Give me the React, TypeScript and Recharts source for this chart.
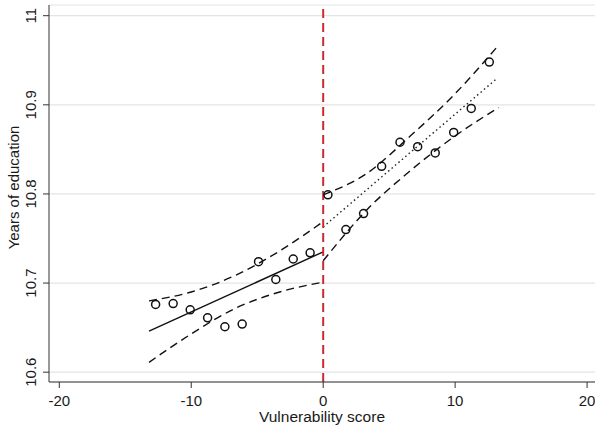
import React from "react";
import {
  ComposedChart,
  XAxis,
  YAxis,
  CartesianGrid,
  Scatter,
  Line,
  ReferenceLine,
} from "recharts";

// Binned means (circles)
const binX = [-12.7, -11.37, -10.08, -8.76, -7.45, -6.14, -4.9, -3.59, -2.27, -0.99, 0.36, 1.72, 3.06, 4.43, 5.82, 7.16, 8.49, 9.89, 11.22, 12.59];
const binY = [10.676, 10.677, 10.67, 10.661, 10.651, 10.654, 10.724, 10.704, 10.727, 10.734, 10.799, 10.76, 10.778, 10.831, 10.858, 10.853, 10.846, 10.869, 10.896, 10.948];

// Left side fit and confidence band
const leftFitX = [-13.2, 0];
const leftFitY = [10.646, 10.735];
const leftBandX = [-13.2, -10, -6.6, -3.3, 0];
const leftUpperY = [10.68, 10.69, 10.709, 10.736, 10.769];
const leftLowerY = [10.611, 10.643, 10.672, 10.69, 10.701];

// Right side fit and confidence band
const rightFitX = [0, 13.2];
const rightFitY = [10.763, 10.93];
const rightBandX = [0, 3.3, 6.6, 9.9, 13.3];
const rightUpperY = [10.799, 10.823, 10.865, 10.911, 10.967];
const rightLowerY = [10.725, 10.782, 10.826, 10.864, 10.897];

const xTicks = [-20, -10, 0, 10, 20];
const yTicks = [10.6, 10.7, 10.8, 10.9, 11];

const toPts = (xs: number[], ys: number[]) => xs.map((x, i) => ({ x, y: ys[i] }));

const bins = toPts(binX, binY);
const leftFit = toPts(leftFitX, leftFitY);
const leftUpper = toPts(leftBandX, leftUpperY);
const leftLower = toPts(leftBandX, leftLowerY);
const rightFit = toPts(rightFitX, rightFitY);
const rightUpper = toPts(rightBandX, rightUpperY);
const rightLower = toPts(rightBandX, rightLowerY);

const FONT = "'Liberation Sans', Arial, sans-serif";

const YTick = (props: any) => {
  const { x, y, payload } = props;
  return (
    <text
      x={x}
      y={y}
      transform={`rotate(-90, ${x}, ${y})`}
      textAnchor="middle"
      fontFamily={FONT}
      fontSize={15}
      fill="#1a1a1a"
    >
      {payload.value}
    </text>
  );
};

const XTick = (props: any) => {
  const { x, y, payload } = props;
  return (
    <text x={x} y={y} dy="0.71em" textAnchor="middle" fontFamily={FONT} fontSize={15} fill="#1a1a1a">
      {payload.value}
    </text>
  );
};

const Circle = (props: any) => {
  const { cx, cy } = props;
  return <circle cx={cx} cy={cy} r={4} fill="none" stroke="#111" strokeWidth={1.5} />;
};

export default function App() {
  return (
    <div style={{ position: "absolute", left: 0, top: 0, width: 595, height: 427, background: "#fff" }}>
      <ComposedChart width={595} height={427} margin={{ top: 5, right: 0, left: 0, bottom: 0 }}>
        <CartesianGrid horizontal vertical={false} stroke="#e4e4e4" strokeWidth={1.2} />
        <XAxis
          type="number"
          dataKey="x"
          domain={[-20.78, 20.6]}
          ticks={xTicks}
          allowDataOverflow
          height={45}
          tickSize={6}
          tickMargin={7}
          stroke="#333"
          tick={<XTick />}
          label={{
            content: (p: any) => (
              <text
                x={p.viewBox.x + p.viewBox.width / 2}
                y={p.viewBox.y + 40}
                textAnchor="middle"
                fontFamily={FONT}
                fontSize={15.5}
                fill="#1a1a1a"
              >
                Vulnerability score
              </text>
            ),
          }}
        />
        <YAxis
          type="number"
          dataKey="y"
          domain={[10.589, 11.012]}
          ticks={yTicks}
          allowDataOverflow
          width={49}
          tickSize={6}
          tickMargin={7}
          stroke="#333"
          tick={<YTick />}
          label={{
            content: (p: any) => {
              const cx = 19;
              const cy = p.viewBox.y + p.viewBox.height / 2 - 6;
              return (
                <text
                  x={cx}
                  y={cy}
                  transform={`rotate(-90, ${cx}, ${cy})`}
                  textAnchor="middle"
                  fontFamily={FONT}
                  fontSize={15}
                  fill="#1a1a1a"
                >
                  Years of education
                </text>
              );
            },
          }}
        />
        <Line data={leftUpper} dataKey="y" type="monotone" stroke="#111" strokeWidth={1.4} strokeDasharray="8 5" dot={false} isAnimationActive={false} />
        <Line data={leftLower} dataKey="y" type="monotone" stroke="#111" strokeWidth={1.4} strokeDasharray="8 5" dot={false} isAnimationActive={false} />
        <Line data={leftFit} dataKey="y" type="linear" stroke="#111" strokeWidth={1.4} dot={false} isAnimationActive={false} />
        <Line data={rightUpper} dataKey="y" type="monotone" stroke="#111" strokeWidth={1.4} strokeDasharray="8 5" dot={false} isAnimationActive={false} />
        <Line data={rightLower} dataKey="y" type="monotone" stroke="#111" strokeWidth={1.4} strokeDasharray="8 5" dot={false} isAnimationActive={false} />
        <Line data={rightFit} dataKey="y" type="linear" stroke="#222" strokeWidth={1.4} strokeDasharray="1.5 3" dot={false} isAnimationActive={false} />
        <Scatter data={bins} dataKey="y" shape={<Circle />} isAnimationActive={false} />
        <ReferenceLine x={0} stroke="#cc2a2f" strokeWidth={2} strokeDasharray="9 5" />
      </ComposedChart>
    </div>
  );
}
